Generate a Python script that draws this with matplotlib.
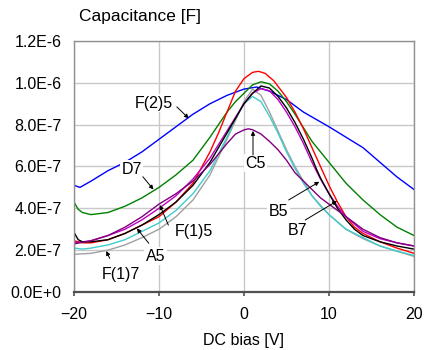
import matplotlib
matplotlib.use("Agg")
import matplotlib.pyplot as plt
from matplotlib.ticker import FuncFormatter, MultipleLocator

plt.rcParams['font.family'] = ['Liberation Sans', 'DejaVu Sans']

# capacitance values are in units of 1e-6 F
x_f25 = [-20, -19.3, -18, -16, -14, -12, -10, -8, -6, -4, -2, 0, 1.5, 3, 5, 7, 10, 12, 14, 16, 18, 20]
c_f25 = [0.51, 0.50, 0.53, 0.58, 0.62, 0.67, 0.73, 0.79, 0.85, 0.90, 0.94, 0.97, 0.98, 0.96, 0.92,
         0.86, 0.79, 0.74, 0.69, 0.62, 0.55, 0.49]

x_d7 = [-20, -19.5, -19, -18, -16, -14, -12, -10, -8, -6, -4, -2, -1, 0, 1, 2, 3, 4, 5, 6, 8, 10,
        12, 14, 16, 18, 20]
c_d7 = [0.43, 0.395, 0.38, 0.37, 0.38, 0.41, 0.45, 0.50, 0.56, 0.63, 0.74, 0.86, 0.91, 0.95, 0.99,
        1.005, 0.995, 0.96, 0.91, 0.85, 0.72, 0.62, 0.52, 0.44, 0.37, 0.31, 0.27]

x_b7 = [-20, -19, -18, -16, -14, -12, -10, -8, -6, -4, -3, -2, -1, 0, 1, 1.7, 2.5, 3.5, 5, 6, 7, 8,
        9, 10, 11, 12, 13, 14, 16, 18, 20]
c_b7 = [0.245, 0.235, 0.235, 0.25, 0.28, 0.32, 0.36, 0.43, 0.52, 0.67, 0.76, 0.86, 0.96, 1.02, 1.05,
        1.055, 1.045, 1.01, 0.93, 0.86, 0.78, 0.69, 0.60, 0.51, 0.43, 0.36, 0.31, 0.28, 0.24, 0.21, 0.185]

x_b5 = [-20, -19.5, -19, -18, -16, -14, -12, -10, -8, -6, -4, -2, 0, 1, 2, 3, 4, 5, 6, 7, 8, 8.5,
        9, 10, 11, 12, 13, 14, 16, 18, 20]
c_b5 = [0.285, 0.25, 0.24, 0.24, 0.25, 0.28, 0.32, 0.37, 0.43, 0.51, 0.62, 0.76, 0.90, 0.95, 0.985,
        0.975, 0.935, 0.88, 0.81, 0.73, 0.64, 0.59, 0.545, 0.47, 0.40, 0.345, 0.30, 0.27, 0.24, 0.22, 0.205]

x_f15 = [-20, -18, -16, -14, -12, -10, -8, -6, -4, -2, 0, 1, 2, 3, 4, 5, 6, 7, 8, 9, 10, 11, 12, 14,
         16, 18, 20]
c_f15 = [0.235, 0.245, 0.27, 0.30, 0.345, 0.40, 0.46, 0.54, 0.64, 0.77, 0.90, 0.95, 0.972, 0.962,
         0.92, 0.86, 0.79, 0.71, 0.62, 0.54, 0.47, 0.41, 0.36, 0.29, 0.255, 0.235, 0.22]

x_c5 = [-20, -18, -16, -14, -12, -10, -8, -6, -4, -3, -2, -1, 0, 0.5, 1, 2, 3, 4, 5, 6, 7, 8, 9, 10,
        12, 14, 16, 18, 20]
c_c5 = [0.23, 0.245, 0.27, 0.31, 0.36, 0.42, 0.47, 0.53, 0.61, 0.66, 0.71, 0.755, 0.775, 0.78, 0.776,
        0.755, 0.72, 0.68, 0.63, 0.57, 0.53, 0.49, 0.45, 0.42, 0.36, 0.30, 0.26, 0.235, 0.22]

x_a5 = [-20, -19, -18, -16, -14, -12, -10, -8, -6, -4, -2, -1, 0, 1, 2, 3, 4, 5, 6, 7, 8, 9, 10,
        12, 14, 16, 18, 20]
c_a5 = [0.21, 0.205, 0.21, 0.225, 0.25, 0.29, 0.33, 0.39, 0.47, 0.58, 0.74, 0.83, 0.90, 0.935, 0.91,
        0.84, 0.76, 0.67, 0.59, 0.52, 0.46, 0.41, 0.37, 0.30, 0.26, 0.22, 0.195, 0.175]

x_f17 = [-20, -18, -16, -14, -12, -10, -8, -6, -4, -2, -1, 0, 1, 2, 3, 4, 5, 6, 7, 8, 10, 12, 14, 16,
         18, 20]
c_f17 = [0.18, 0.185, 0.20, 0.225, 0.26, 0.30, 0.36, 0.44, 0.56, 0.73, 0.82, 0.91, 0.97, 0.94, 0.86,
         0.77, 0.68, 0.60, 0.53, 0.46, 0.37, 0.30, 0.255, 0.22, 0.195, 0.17]

series = [
    (x_f25, c_f25, '#0000ff'),
    (x_d7, c_d7, '#008000'),
    (x_f17, c_f17, '#a0a0a0'),
    (x_a5, c_a5, '#40cccc'),
    (x_b7, c_b7, '#ff0000'),
    (x_f15, c_f15, '#c000c0'),
    (x_b5, c_b5, '#000000'),
    (x_c5, c_c5, '#800080'),
]

# label text, label position, arrow start, arrow tip
label_names = ['F(2)5', 'D7', 'C5', 'F(1)5', 'A5', 'F(1)7', 'B5', 'B7']
label_pos = [(-10.6, 0.902), (-13.2, 0.588), (1.33, 0.615), (-5.9, 0.287),
             (-10.4, 0.172), (-14.5, 0.084), (4.08, 0.384), (6.24, 0.294)]
arrow_from = [(-7.9, 0.885), (-11.9, 0.551), (1.06, 0.655), (-8.9, 0.32),
              (-11.2, 0.233), (-15.8, 0.161), (5.26, 0.44), (7.2, 0.344)]
arrow_to = [(-6.5, 0.83), (-10.65, 0.49), (1.06, 0.77), (-9.9, 0.416),
            (-12.6, 0.304), (-16.2, 0.196), (8.86, 0.527), (10.94, 0.435)]

fig = plt.figure(figsize=(4.24, 3.5), dpi=100)
ax = fig.add_axes([0.1745, 0.1657, 0.8019, 0.7172])

for xs, cs, col in series:
    ax.plot(xs, [c * 1e-6 for c in cs], color=col, lw=1.0)

for name, pos, p0, p1 in zip(label_names, label_pos, arrow_from, arrow_to):
    ax.text(pos[0], pos[1] * 1e-6, name, ha='center', va='center', fontsize=11.5,
            bbox=dict(facecolor='white', edgecolor='none', pad=1.0), zorder=5)
    ax.annotate('', xy=(p1[0], p1[1] * 1e-6), xytext=(p0[0], p0[1] * 1e-6),
                arrowprops=dict(arrowstyle='-|>', color='black', lw=0.7,
                                mutation_scale=6, shrinkA=0, shrinkB=0), zorder=6)

ax.set_xlim(-20, 20)
ax.set_ylim(0, 1.2e-6)
ax.xaxis.set_major_locator(MultipleLocator(10))
ax.yaxis.set_major_locator(MultipleLocator(0.2e-6))


def sci_fmt(v, pos):
    mant, exp = f"{v:.1E}".split('E')
    return f"{mant}E{int(exp):+d}" if int(exp) == 0 else f"{mant}E{int(exp)}"


ax.yaxis.set_major_formatter(FuncFormatter(sci_fmt))
ax.grid(True, color='#c8c8c8', lw=1.0)
ax.set_axisbelow(True)

for side in ['top', 'right', 'left']:
    ax.spines[side].set_color('#909090')
    ax.spines[side].set_linewidth(1.0)
ax.spines['bottom'].set_color('#505050')
ax.spines['bottom'].set_linewidth(1.6)

ax.tick_params(axis='y', length=0, pad=9, labelsize=11.5)
ax.tick_params(axis='x', length=3, width=1.2, color='#505050', direction='out', pad=8, labelsize=11.5)

ax.set_xlabel('DC bias [V]', fontsize=11.5, labelpad=8)
fig.text(79 / 424, 1 - 17 / 350, 'Capacitance [F]', ha='left', va='center', fontsize=12.5)

fig.savefig('out.png', dpi=100)
